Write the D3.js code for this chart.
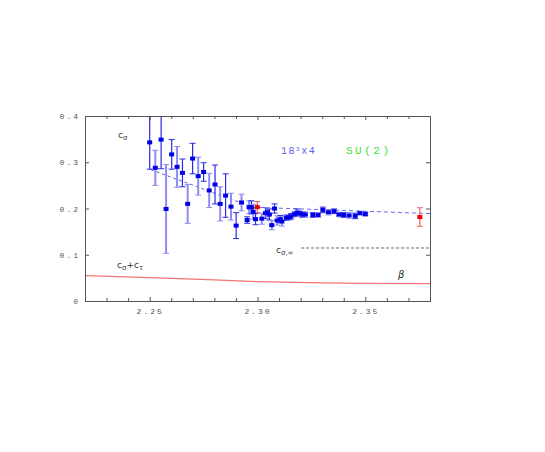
<!DOCTYPE html>
<html>
<head>
<meta charset="utf-8">
<script src="https://cdn.jsdelivr.net/npm/d3@7"></script>
<style>
  body { margin: 0; background: #fff; }
  .tick text { font-family: "Liberation Mono", monospace; font-size: 8px; fill: #555; letter-spacing: 2px; }
</style>
</head>
<body>
<div id="chart"></div>
<script>
// sigma coefficient data, blue series: [beta, value, error]
const blueBeta = [2.2500, 2.2526, 2.2553, 2.2576, 2.2602, 2.2627, 2.2652, 2.2676, 2.2699, 2.2725,
  2.2750, 2.2776, 2.2803, 2.2827, 2.2852, 2.2877, 2.2901, 2.2926, 2.2952, 2.2961,
  2.2972, 2.2980, 2.2991, 2.3020, 2.3037, 2.3046, 2.3055, 2.3066, 2.3079, 2.3091,
  2.3106, 2.3113, 2.3134, 2.3146, 2.3155, 2.3171, 2.3184, 2.3195, 2.3209, 2.3222,
  2.3257, 2.3281, 2.3303, 2.3329, 2.3355, 2.3378, 2.3400, 2.3425, 2.3453, 2.3475, 2.3500]
const blueVal = [0.343, 0.288, 0.349, 0.199, 0.317, 0.290, 0.277, 0.210, 0.308, 0.270,
  0.279, 0.239, 0.252, 0.210, 0.228, 0.204, 0.163, 0.213, 0.175, 0.2026,
  0.2026, 0.193, 0.177, 0.178, 0.190, 0.192, 0.187, 0.164, 0.200, 0.174,
  0.177, 0.172, 0.180, 0.181, 0.183, 0.188, 0.191, 0.189, 0.187, 0.187,
  0.186, 0.186, 0.197, 0.192, 0.194, 0.187, 0.186, 0.185, 0.184, 0.190, 0.188]
const blueErr = [0.058, 0.038, 0.063, 0.096, 0.032, 0.044, 0.030, 0.042, 0.033, 0.041,
  0.020, 0.037, 0.042, 0.037, 0.047, 0.029, 0.028, 0.018, 0.007, 0.014,
  0.014, 0.016, 0.012, 0.012, 0.012, 0.010, 0.012, 0.010, 0.010, 0.010,
  0.008, 0.010, 0.006, 0.006, 0.006, 0.006, 0.008, 0.006, 0.006, 0.006,
  0.005, 0.005, 0.006, 0.006, 0.005, 0.005, 0.005, 0.006, 0.006, 0.004, 0.004]

// red points
const redBeta = [2.2999, 2.3753]
const redVal = [0.203, 0.1816]
const redErr = [0.012, 0.020]

// fit lines
const fitSteep = [[2.2505, 0.284], [2.300, 0.199]]
const fitFlat = [[2.297, 0.203], [2.38, 0.189]]
const cInf = [[2.3202, 0.1146], [2.38, 0.1146]]
const cSum = [[2.22, 0.0547], [2.25, 0.0505], [2.28, 0.0455], [2.30, 0.0418], [2.33, 0.0392], [2.35, 0.0383], [2.38, 0.0374]]

const xTicks = [2.25, 2.30, 2.35]
const xMinor = [2.23, 2.24, 2.26, 2.27, 2.28, 2.29, 2.31, 2.32, 2.33, 2.34, 2.36, 2.37]
const yTicks = [0, 0.1, 0.2, 0.3, 0.4]

const w = 545, h = 452
const padLeft = 85, padRight = 430, padTop = 116, padBottom = 301

const xScale = d3.scaleLinear().domain([2.22, 2.38]).range([padLeft, padRight])
const yScale = d3.scaleLinear().domain([0, 0.4]).range([padBottom, padTop])

const svg = d3.select("#chart").append("svg")
  .attr("width", w).attr("height", h)

svg.append("clipPath").attr("id", "plot")
  .append("rect").attr("x", padLeft).attr("y", padTop)
  .attr("width", padRight - padLeft).attr("height", padBottom - padTop)

const plot = svg.append("g").attr("clip-path", "url(#plot)")

const line = d3.line().x(d => xScale(d[0])).y(d => yScale(d[1]))

// red c_sigma + c_tau line
plot.append("path").attr("d", line(cSum))
  .attr("fill", "none").attr("stroke", "#f25a5a").attr("stroke-width", 1.2).attr("opacity", 0.85)

// c_sigma,inf
plot.append("path").attr("d", line(cInf))
  .attr("fill", "none").attr("stroke", "#444").attr("stroke-width", 0.8)
  .attr("stroke-dasharray", "3,2")

// blue dashed fits
plot.append("path").attr("d", line(fitSteep))
  .attr("fill", "none").attr("stroke", "#5a5ae6").attr("stroke-width", 1)
  .attr("stroke-dasharray", "3,3")
plot.append("path").attr("d", line(fitFlat))
  .attr("fill", "none").attr("stroke", "#6a6af0").attr("stroke-width", 1)
  .attr("stroke-dasharray", "4,3")

// error bars
function errorBar(g, x, y, e, color, width) {
  const px = xScale(x)
  g.append("line").attr("x1", px).attr("x2", px)
    .attr("y1", yScale(y - e)).attr("y2", yScale(y + e))
    .attr("stroke", color).attr("stroke-width", width)
  ;[y - e, y + e].forEach(v => {
    g.append("line").attr("x1", px - 3).attr("x2", px + 3)
      .attr("y1", yScale(v)).attr("y2", yScale(v))
      .attr("stroke", color).attr("stroke-width", 1)
  })
}

blueBeta.forEach((b, i) => {
  const light = i % 2 === 1
  errorBar(plot, b, blueVal[i], blueErr[i], light ? "#8c8cf2" : "#2a2ae6", light ? 2 : 1.2)
})
redBeta.forEach((b, i) => errorBar(plot, b, redVal[i], redErr[i], "#f06060", 1.2))

plot.selectAll("rect.blue").data(blueBeta).enter().append("rect")
  .attr("class", "blue")
  .attr("x", d => xScale(d) - 2.5)
  .attr("y", (d, i) => yScale(blueVal[i]) - 2)
  .attr("width", 5).attr("height", 4)
  .attr("fill", "#0000e6")

plot.selectAll("rect.red").data(redBeta).enter().append("rect")
  .attr("class", "red")
  .attr("x", d => xScale(d) - 2.5)
  .attr("y", (d, i) => yScale(redVal[i]) - 2)
  .attr("width", 5).attr("height", 4)
  .attr("fill", "#f00000")

// axes, ticks pointing inward
const xAxis = d3.axisBottom(xScale).tickValues(xTicks).tickFormat(d3.format(".2f")).tickSize(-4).tickPadding(7)
const xAxisMinor = d3.axisBottom(xScale).tickValues(xMinor).tickFormat("").tickSize(-3)
const yAxis = d3.axisLeft(yScale).tickValues(yTicks).tickFormat(d => d === 0 ? "0" : d3.format(".1f")(d)).tickSize(-4).tickPadding(5)

function styleAxis(g) {
  g.select(".domain").attr("stroke", "#555")
  g.selectAll(".tick line").attr("stroke", "#555")
}

svg.append("g").attr("transform", "translate(0," + padBottom + ")").call(xAxisMinor).call(styleAxis)
svg.append("g").attr("transform", "translate(0," + padBottom + ")").call(xAxis).call(styleAxis)
svg.append("g").attr("transform", "translate(0," + padTop + ")")
  .call(d3.axisTop(xScale).tickValues(xTicks).tickFormat("").tickSize(-4)).call(styleAxis)
svg.append("g").attr("transform", "translate(0," + padTop + ")")
  .call(d3.axisTop(xScale).tickValues(xMinor).tickFormat("").tickSize(-3)).call(styleAxis)
svg.append("g").attr("transform", "translate(" + padLeft + ",0)").call(yAxis).call(styleAxis)
svg.append("g").attr("transform", "translate(" + padRight + ",0)")
  .call(d3.axisRight(yScale).tickValues(yTicks).tickFormat("").tickSize(-4)).call(styleAxis)

// labels
const labelFont = "'DejaVu Sans', sans-serif"
function cLabel(x, y, sub) {
  const t = svg.append("text").attr("x", x).attr("y", y)
    .attr("font-family", labelFont).attr("font-size", 9).attr("fill", "#333")
  t.append("tspan").text("c")
  t.append("tspan").attr("dy", 2).attr("font-size", 7).text(sub)
  return t
}
cLabel(118, 138, "σ")
const sum = svg.append("text").attr("x", 117).attr("y", 268)
  .attr("font-family", labelFont).attr("font-size", 9).attr("fill", "#333")
sum.append("tspan").text("c")
sum.append("tspan").attr("dy", 2).attr("font-size", 7).text("σ")
sum.append("tspan").attr("dy", -2).text("+c")
sum.append("tspan").attr("dy", 2).attr("font-size", 7).text("τ")
cLabel(276, 253, "σ,∞")

svg.append("text").attr("x", 398).attr("y", 278)
  .attr("font-family", labelFont).attr("font-style", "italic").attr("font-size", 10).attr("fill", "#333")
  .text("β")

const lat = svg.append("text").attr("x", 281).attr("y", 154)
  .attr("font-family", "'Liberation Mono', monospace").attr("font-size", 10)
  .attr("letter-spacing", 1.5).attr("fill", "#5a5af0")
lat.append("tspan").text("18")
lat.append("tspan").attr("dy", -3).attr("font-size", 6).text("3")
lat.append("tspan").attr("dy", 3).text("x4")

svg.append("text").attr("x", 346).attr("y", 154)
  .attr("font-family", "'Liberation Mono', monospace").attr("font-size", 11)
  .attr("letter-spacing", 2.5).attr("fill", "#40e040")
  .text("SU(2)")
</script>
</body>
</html>
